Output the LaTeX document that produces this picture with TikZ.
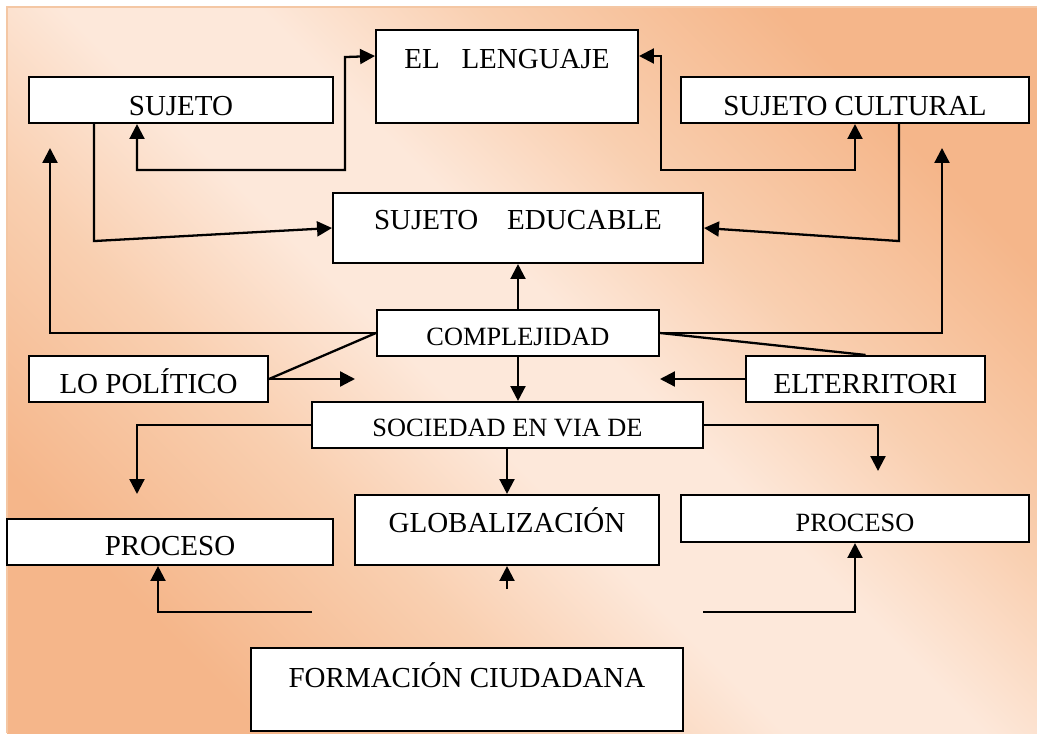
\documentclass[tikz,border=0pt]{standalone}
\usepackage{fontspec}
\setmainfont{Liberation Serif}
\usetikzlibrary{arrows.meta}

\definecolor{peachdark}{HTML}{F5B68A}
\definecolor{peachmid}{HTML}{F9CFB0}
\definecolor{peachlight}{HTML}{FDE8DA}
\definecolor{frameline}{HTML}{F4C7A4}
\pgfdeclareverticalshading{peachband}{100bp}{color(0bp)=(peachdark); color(25bp)=(peachdark);
    color(37bp)=(peachmid); color(46bp)=(peachlight); color(54bp)=(peachlight);
    color(63bp)=(peachmid); color(75bp)=(peachdark); color(100bp)=(peachdark)}

\begin{document}
\begin{tikzpicture}[
    x=0.02cm, y=-0.02cm,
    box/.style={draw=black, fill=white, line width=1.2pt, inner sep=0pt,
        text height=11pt, text depth=0pt, font=\fontsize{16.5}{18}\selectfont},
    small/.style={font=\fontsize{15}{17}\selectfont, text height=9.9pt},
    arr/.style={line width=1.3pt, >={Triangle[length=8.5pt,width=8.5pt]}},
    link/.style={line width=1.3pt},
    ]
    \useasboundingbox (0,0) rectangle (1037,733);
    % background
    \shade[shading=peachband, shading angle=-45] (7,7) rectangle (1037,733);
    \draw[frameline, line width=1pt] (7,733) -- (7,7) -- (1037,7);

    % boxes
    \node[box, minimum width=5.24cm, minimum height=1.86cm, text depth=19.8pt] (leng) at (507,76.5) {EL\ \ \ LENGUAJE};
    \node[box, minimum width=6.08cm, minimum height=0.92cm, text height=17.8pt] (suj) at (181,100) {SUJETO};
    \node[box, minimum width=6.96cm, minimum height=0.92cm, text height=17.8pt] (sujc) at (855,100) {SUJETO CULTURAL};
    \node[box, minimum width=7.4cm, minimum height=1.4cm, text depth=9.1pt] (educ) at (518,228) {SUJETO\quad EDUCABLE};
    \node[box, small, minimum width=5.64cm, minimum height=0.92cm, text height=13.9pt] (comp) at (518,333) {COMPLEJIDAD};
    \node[box, minimum width=4.78cm, minimum height=0.92cm, text height=16.7pt] (pol) at (148.5,379) {LO POLÍTICO};
    \node[box, minimum width=4.78cm, minimum height=0.92cm, text height=16.7pt] (terr) at (865.5,379) {ELTERRITORI};
    \node[box, small, minimum width=7.82cm, minimum height=0.92cm, text height=12.7pt] (soc) at (507.5,425) {SOCIEDAD EN VIA DE};
    \node[box, minimum width=6.08cm, minimum height=1.4cm, text depth=7.9pt] (glob) at (507,530) {GLOBALIZACIÓN};
    \node[box, minimum width=6.52cm, minimum height=0.92cm, text height=15.5pt] (procl) at (170,542) {PROCESO};
    \node[box, small, minimum width=6.96cm, minimum height=0.94cm, text height=14.4pt] (procr) at (855,518.5) {PROCESO};
    \node[box, minimum width=8.64cm, minimum height=1.66cm, text depth=13.6pt] (form) at (467,689.5) {FORMACIÓN CIUDADANA};

    % free ends
    \coordinate (upl) at (50,148);
    \coordinate (upr) at (942,148);
    \coordinate (polx) at (355,379);
    \coordinate (terrx) at (660,379);
    \coordinate (procla) at (137,494);
    \coordinate (procra) at (878,471);
    \coordinate (globb) at (507,589);
    \coordinate (forml) at (312,612);
    \coordinate (formr) at (703,612);

    % connectors
    \draw[arr,<->] ([xshift=-0.88cm]suj.south) -- ++(0,46) -| ++(208,-113) -- ([yshift=0.41cm]leng.west);
    \draw[arr,<->] ([yshift=0.41cm]leng.east) -- ++(22,0) |- ([yshift=-0.92cm]sujc.south) -- (sujc.south);
    \draw[arr,->] ([xshift=-1.74cm]suj.south) -- ++(0,117) -- (educ.west);
    \draw[arr,->] ([xshift=0.88cm]sujc.south) -- ++(0,117) -- (educ.east);
    \draw[arr,->] (comp.north) -- (educ.south);
    \draw[arr,->] (comp.west) -| (upl);
    \draw[arr,->] (comp.east) -| (upr);
    \draw[link] (comp.west) -- (pol.east);
    \draw[arr,->] (pol.east) -- (polx);
    \draw[link] (comp.east) -- (terr.north);
    \draw[arr,->] (terr.west) -- (terrx);
    \draw[arr,->] (comp.south) -- (comp.south |- soc.north);
    \draw[arr,->] (soc.west) -| (procla);
    \draw[arr,->] (soc.east) -| (procra);
    \draw[arr,->] ([xshift=-0.01cm]soc.south) -- ([xshift=-0.01cm]soc.south |- glob.north);
    \draw[arr,->] (globb) -- (glob.south);
    \draw[arr,->] (forml) -| ([xshift=-0.24cm]procl.south);
    \draw[arr,->] (formr) -| (procr.south);
\end{tikzpicture}
\end{document}
